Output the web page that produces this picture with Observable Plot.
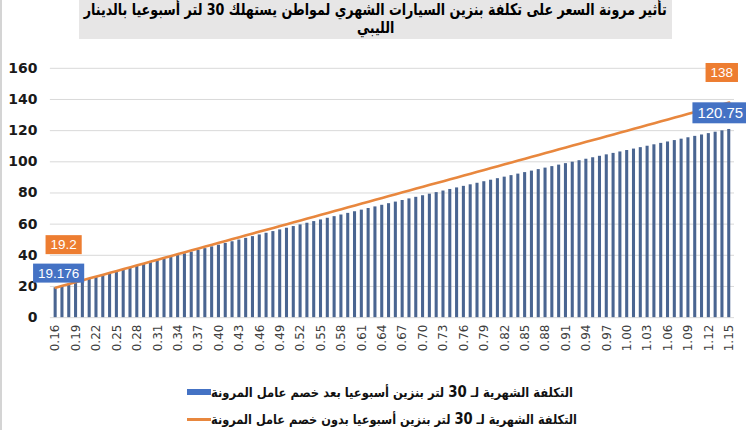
<!DOCTYPE html>
<html lang="ar">
<head>
<meta charset="utf-8">
<script src="https://cdn.jsdelivr.net/npm/d3@7"></script>
<script src="https://cdn.jsdelivr.net/npm/@observablehq/plot@0.6"></script>
<style>
  html, body { margin: 0; padding: 0; background: #fff; }
  #wrap { position: relative; width: 746px; height: 430px; overflow: hidden; background: #fff; border-left: 2px solid #d4d4d4; box-sizing: border-box; }
  #title { position: absolute; left: 77px; top: 0; width: 593px; height: 39px; background: #e7e6e6; overflow: hidden; }
  #title .ln { display: flex; justify-content: center; height: 18px; line-height: 18px; white-space: nowrap; }
  #title .ln span { display: inline-block; flex: none; direction: rtl; font: bold 16px "DejaVu Sans", sans-serif; color: #000; transform-origin: 50% 50%; }
  #chart { position: absolute; left: -2px; top: 0; }
  .leg { position: absolute; left: 185px; display: flex; flex-direction: row; align-items: center; white-space: nowrap; }
  .leg .txt { display: inline-block; flex: none; direction: rtl; font: bold 13px "DejaVu Sans", sans-serif; color: #111; transform-origin: 0 50%; }
  .leg .num { font-size: 15px; }
  .sw-bar { display: inline-block; width: 24px; height: 6px; background: #4472c4; flex: none; }
  .sw-line { display: inline-block; width: 24px; height: 3px; background: #e8873e; flex: none; }
</style>
</head>
<body>
<div id="wrap">
  <div id="chart"></div>
  <div id="title"></div>
  <div class="leg" id="leg0" style="top:383px"></div>
  <div class="leg" id="leg1" style="top:410px"></div>
</div>
<script>
const titleLines = ["تأثير مرونة السعر على تكلفة بنزين السيارات الشهري لمواطن يستهلك 30 لتر أسبوعيا بالدينار", "الليبي"];
const seriesNames = [
  "التكلفة الشهرية لـ 30 لتر بنزين أسبوعيا بعد خصم عامل المرونة",
  "التكلفة الشهرية لـ 30 لتر بنزين أسبوعيا بدون خصم عامل المرونة"
];
const prices = ["0.16","0.17","0.18","0.19","0.20","0.21","0.22","0.23","0.24","0.25",
"0.26","0.27","0.28","0.29","0.30","0.31","0.32","0.33","0.34","0.35",
"0.36","0.37","0.38","0.39","0.40","0.41","0.42","0.43","0.44","0.45",
"0.46","0.47","0.48","0.49","0.50","0.51","0.52","0.53","0.54","0.55",
"0.56","0.57","0.58","0.59","0.60","0.61","0.62","0.63","0.64","0.65",
"0.66","0.67","0.68","0.69","0.70","0.71","0.72","0.73","0.74","0.75",
"0.76","0.77","0.78","0.79","0.80","0.81","0.82","0.83","0.84","0.85",
"0.86","0.87","0.88","0.89","0.90","0.91","0.92","0.93","0.94","0.95",
"0.96","0.97","0.98","0.99","1.00","1.01","1.02","1.03","1.04","1.05",
"1.06","1.07","1.08","1.09","1.10","1.11","1.12","1.13","1.14","1.15"];
const withElasticity = [19.176,20.35,21.52,22.69,23.85,25.01,26.17,27.32,28.48,29.63,
30.77,31.91,33.05,34.19,35.33,36.46,37.58,38.71,39.83,40.95,
42.07,43.18,44.29,45.40,46.50,47.60,48.70,49.79,50.89,51.98,
53.06,54.14,55.22,56.30,57.38,58.45,59.51,60.58,61.64,62.70,
63.76,64.81,65.86,66.91,67.95,68.99,70.03,71.06,72.10,73.13,
74.15,75.17,76.19,77.21,78.23,79.24,80.24,81.25,82.25,83.25,
84.25,85.24,86.23,87.22,88.20,89.18,90.16,91.13,92.11,93.08,
94.04,95.00,95.96,96.92,97.88,98.83,99.77,100.72,101.66,102.60,
103.54,104.47,105.40,106.33,107.25,108.17,109.09,110.00,110.92,111.83,
112.73,113.63,114.53,115.43,116.33,117.22,118.10,118.99,119.87,120.75];
const withoutElasticity = [19.2,20.4,21.6,22.8,24.0,25.2,26.4,27.6,28.8,30.0,
31.2,32.4,33.6,34.8,36.0,37.2,38.4,39.6,40.8,42.0,
43.2,44.4,45.6,46.8,48.0,49.2,50.4,51.6,52.8,54.0,
55.2,56.4,57.6,58.8,60.0,61.2,62.4,63.6,64.8,66.0,
67.2,68.4,69.6,70.8,72.0,73.2,74.4,75.6,76.8,78.0,
79.2,80.4,81.6,82.8,84.0,85.2,86.4,87.6,88.8,90.0,
91.2,92.4,93.6,94.8,96.0,97.2,98.4,99.6,100.8,102.0,
103.2,104.4,105.6,106.8,108.0,109.2,110.4,111.6,112.8,114.0,
115.2,116.4,117.6,118.8,120.0,121.2,122.4,123.6,124.8,126.0,
127.2,128.4,129.6,130.8,132.0,133.2,134.4,135.6,136.8,138.0];
const xTickLabels = ["0.16","0.19","0.22","0.25","0.28","0.31","0.34","0.37","0.40","0.43",
"0.46","0.49","0.52","0.55","0.58","0.61","0.64","0.67","0.70","0.73","0.76","0.79",
"0.82","0.85","0.88","0.91","0.94","0.97","1.00","1.03","1.06","1.09","1.12","1.15"];
const yTicks = [0,20,40,60,80,100,120,140,160];
const colors = ["#4a6591", "#e8873e"];
const boxColors = ["#4472c4", "#ed7d31"];

const rows = prices.map((p, i) => ({price: p, bar: withElasticity[i], line: withoutElasticity[i]}));
const first = rows[0], last = rows[rows.length - 1];
const lblFmt = v => String(+v.toFixed(3));
const lblFont = "Liberation Sans, Arial, sans-serif";

const chart = Plot.plot({
  width: 748, height: 370,
  marginTop: 68, marginBottom: 52, marginLeft: 50, marginRight: 12,
  style: {fontFamily: "DejaVu Sans, sans-serif", background: "transparent"},
  x: {type: "band", domain: prices, padding: 0.55, label: null},
  y: {domain: [0, 160], label: null},
  marks: [
    Plot.gridY(yTicks, {stroke: "#d9d9d9", strokeOpacity: 1}),
    Plot.barY(rows, {x: "price", y: "bar", fill: colors[0]}),
    Plot.line(rows, {x: "price", y: "line", stroke: colors[1], strokeWidth: 2.6}),
    Plot.axisX({ticks: xTickLabels, tickRotate: -90, tickSize: 0, tickPadding: 7, fontSize: 12, color: "#404040", label: null}),
    Plot.axisY({ticks: yTicks, tickSize: 0, tickPadding: 13, fontSize: 14, fontWeight: "bold", color: "#1a1a1a", label: null}),
    Plot.text([first], {x: "price", y: "bar", text: d => lblFmt(d.bar), dx: 3, dy: -14.5, fill: "white", fontSize: 13.5, fontFamily: lblFont}),
    Plot.text([first], {x: "price", y: "line", text: d => lblFmt(d.line), dx: 8, dy: -43, fill: "white", fontSize: 13.5, fontFamily: lblFont}),
    Plot.text([last], {x: "price", y: "line", text: d => lblFmt(d.line), dx: -7.5, dy: -30, fill: "white", fontSize: 13.5, fontFamily: lblFont}),
    Plot.text([last], {x: "price", y: "bar", text: d => lblFmt(d.bar), dx: -9, dy: -16, fill: "white", fontSize: 15, fontFamily: lblFont})
  ]
});
document.getElementById("chart").appendChild(chart);

// boxes behind data labels
const boxOf = {};
boxOf[lblFmt(first.bar)] = boxColors[0];
boxOf[lblFmt(last.bar)] = boxColors[0];
boxOf[lblFmt(first.line)] = boxColors[1];
boxOf[lblFmt(last.line)] = boxColors[1];
d3.select(chart).selectAll("g[aria-label='text'] text").each(function() {
  const t = this.textContent;
  if (!(t in boxOf)) return;
  const b = this.getBBox();
  const padX = 5, padY = 2;
  const r = document.createElementNS("http://www.w3.org/2000/svg", "rect");
  r.setAttribute("x", b.x - padX);
  r.setAttribute("y", b.y - padY);
  r.setAttribute("width", b.width + 2 * padX);
  r.setAttribute("height", b.height + 2 * padY);
  r.setAttribute("fill", boxOf[t]);
  const tr = this.getAttribute("transform");
  if (tr) r.setAttribute("transform", tr);
  this.parentNode.insertBefore(r, this);
});

// title: fit first line to the reference width
const titleEl = document.getElementById("title");
titleEl.innerHTML = titleLines.map(s => '<div class="ln"><span>' + s + '</span></div>').join("");
const tSpans = titleEl.querySelectorAll(".ln span");
const tScale = Math.min(1, 583 / tSpans[0].getBoundingClientRect().width);
tSpans.forEach(s => s.style.transform = "scaleX(" + tScale + ")");

// legend
[0, 1].forEach(i => {
  const el = document.getElementById("leg" + i);
  const sw = document.createElement("span");
  sw.className = i === 0 ? "sw-bar" : "sw-line";
  const txt = document.createElement("span");
  txt.className = "txt";
  const parts = seriesNames[i].split("30");
  txt.innerHTML = parts[0] + '<span class="num">30</span>' + parts[1];
  el.appendChild(sw);
  el.appendChild(txt);
  const target = i === 0 ? 362 : 366;
  const sc = Math.min(1, target / txt.getBoundingClientRect().width);
  txt.style.transform = "scaleX(" + sc + ")";
});
</script>
</body>
</html>
